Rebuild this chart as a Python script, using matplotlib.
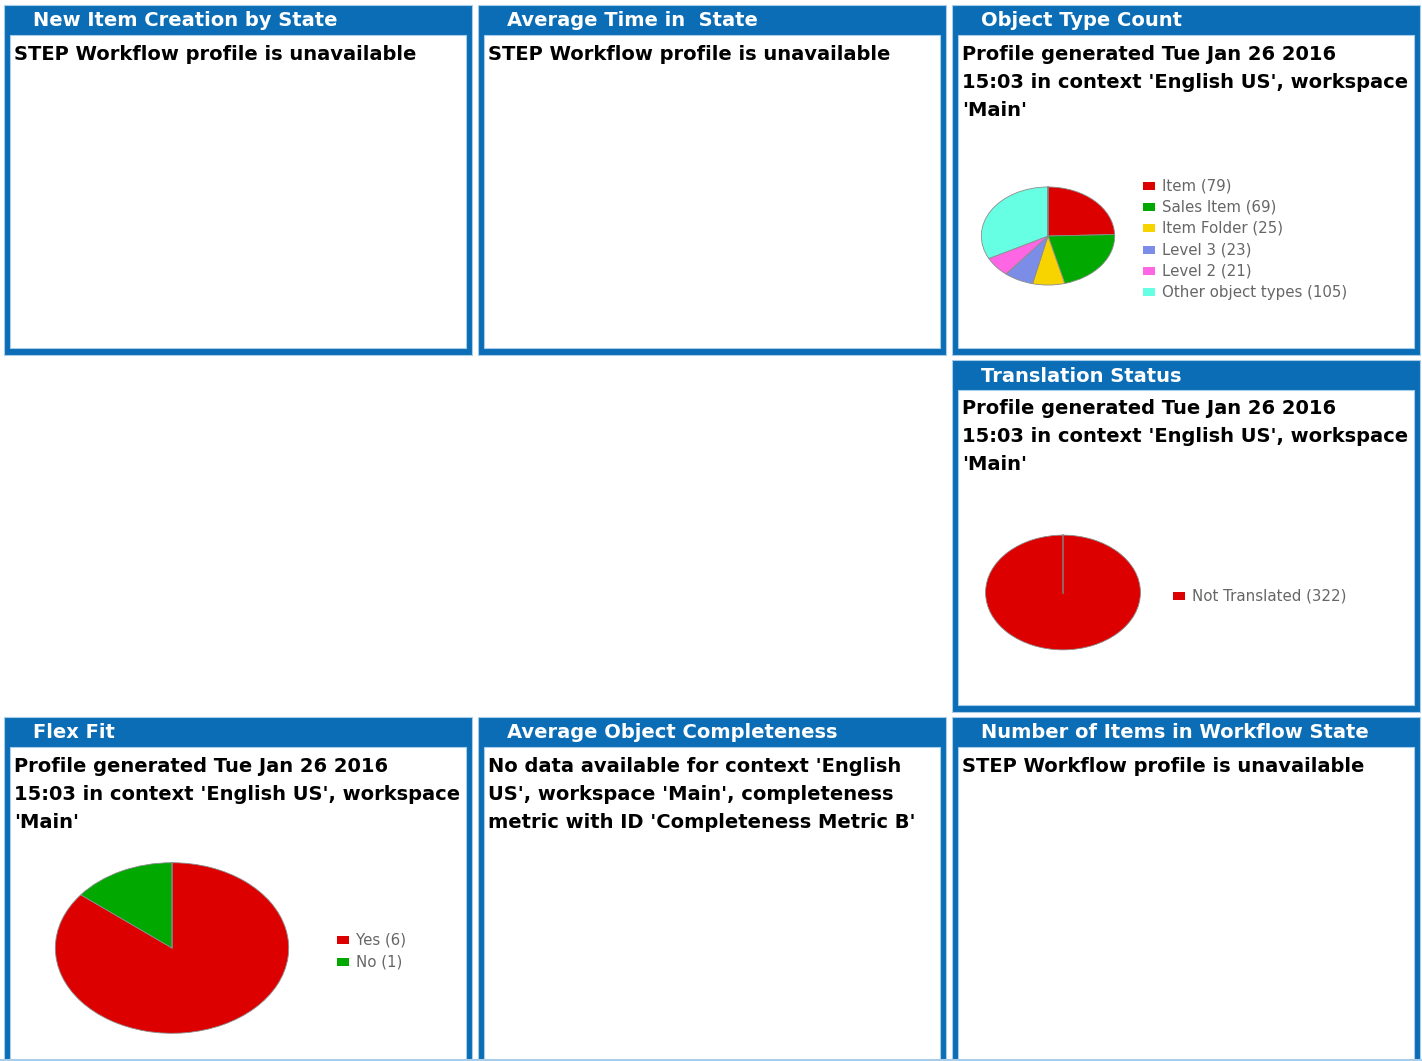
import matplotlib.pyplot as plt
import numpy as np
from matplotlib.patches import Rectangle

W, H = 1422, 1061
BLUE = '#0a6db5'
HALO = '#a8cdea'
RED = '#dd0000'
GREEN = '#00a800'

PROFILE_MSG = ["Profile generated Tue Jan 26 2016",
               "15:03 in context 'English US', workspace",
               "'Main'"]
WORKFLOW_MSG = ["STEP Workflow profile is unavailable"]
COMPLETENESS_MSG = ["No data available for context 'English",
                    "US', workspace 'Main', completeness",
                    "metric with ID 'Completeness Metric B'"]

# pie data
object_types = ['Item', 'Sales Item', 'Item Folder', 'Level 3', 'Level 2', 'Other object types']
object_counts = [79, 69, 25, 23, 21, 105]
object_colors = [RED, GREEN, '#f7d400', '#7b8de6', '#ff66e4', '#66ffe4']

translation_labels = ['Not Translated']
translation_counts = [322]
translation_colors = [RED]

flexfit_labels = ['Yes', 'No']
flexfit_counts = [6, 1]
flexfit_colors = [RED, GREEN]

# panel grid (pixels)
col_x = [4, 478, 952]
row_y = [5, 360, 717]
row_h = [350, 352, 360]
PANEL_W = 468
TITLE_H = 30
SIDE = 6

panels = [
    (0, 0, 'New Item Creation by State', WORKFLOW_MSG),
    (1, 0, 'Average Time in  State', WORKFLOW_MSG),
    (2, 0, 'Object Type Count', PROFILE_MSG),
    (2, 1, 'Translation Status', PROFILE_MSG),
    (0, 2, 'Flex Fit', PROFILE_MSG),
    (1, 2, 'Average Object Completeness', COMPLETENESS_MSG),
    (2, 2, 'Number of Items in Workflow State', WORKFLOW_MSG),
]

fig = plt.figure(figsize=(W / 100, H / 100), dpi=100)
bg = fig.add_axes([0, 0, 1, 1])
bg.set_xlim(0, W)
bg.set_ylim(H, 0)
bg.axis('off')


def px_axes(x0, y0, x1, y1):
    return fig.add_axes([x0 / W, 1 - y1 / H, (x1 - x0) / W, (y1 - y0) / H])


for col, row, title, msg in panels:
    x0, y0, h = col_x[col], row_y[row], row_h[row]
    bg.add_patch(Rectangle((x0, y0), PANEL_W, h, facecolor=BLUE,
                           edgecolor=HALO, lw=0.8))
    inner_h = min(h - TITLE_H - 7, H - 1 - (y0 + TITLE_H))
    bg.add_patch(Rectangle((x0 + SIDE, y0 + TITLE_H), PANEL_W - 2 * SIDE, inner_h,
                           facecolor='white', edgecolor=HALO, lw=0.8))
    bg.text(x0 + 29, y0 + 16, title, color='white', fontsize=14,
            fontweight='bold', va='center', ha='left')
    for i, line in enumerate(msg):
        bg.text(x0 + 10, y0 + 49 + 28 * i, line, color='black', fontsize=14.0,
                fontweight='bold', va='center', ha='left')

bg.axhline(H - 1, color=HALO, lw=1.5)


def draw_pie(box, labels, counts, colors, legend_x, legend_y, legend_dy):
    ax = px_axes(*box)
    ax.pie(counts, colors=colors, startangle=90, counterclock=False,
           wedgeprops=dict(edgecolor='#8c8c8c', linewidth=0.6))
    # start edge of the first slice
    a = np.deg2rad(90)
    ax.plot([0, np.cos(a)], [0, np.sin(a)], color='#808080', lw=1.1)
    ax.set_aspect('auto')
    ax.set_xlim(-1.02, 1.02)
    ax.set_ylim(-1.02, 1.02)
    ax.axis('off')
    for i, (lab, n, c) in enumerate(zip(labels, counts, colors)):
        y = legend_y + legend_dy * i
        bg.add_patch(Rectangle((legend_x, y - 4), 12, 8, facecolor=c, edgecolor='none'))
        bg.text(legend_x + 19, y, f'{lab} ({n})', color='#666666', fontsize=10.8,
                va='center', ha='left')


draw_pie((980, 186, 1116, 286), object_types, object_counts, object_colors, 1143, 186, 21.2)
draw_pie((984, 534, 1142, 651), translation_labels, translation_counts, translation_colors, 1173, 596, 21)
draw_pie((53, 861, 291, 1035), flexfit_labels, flexfit_counts, flexfit_colors, 337, 940, 22)

fig.savefig('out.png', dpi=100)
